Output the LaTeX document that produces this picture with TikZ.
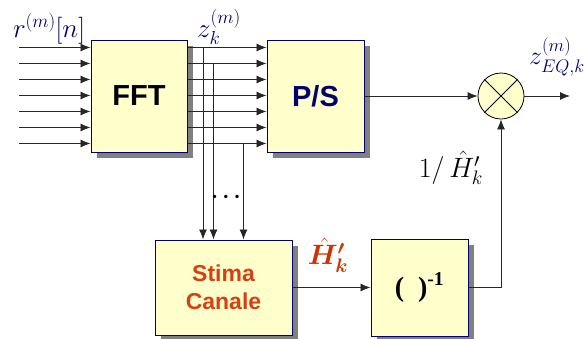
\RequirePackage{fix-cm}
\documentclass[tikz,border=0pt]{standalone}
\usepackage{fontspec}
\setmainfont{Liberation Serif}
\setsansfont{Liberation Sans}
\usepackage{amsmath,bm}
\usetikzlibrary{arrows.meta,shadows}
\definecolor{navy}{RGB}{0,0,110}
\definecolor{boxfill}{RGB}{255,255,204}
\definecolor{rosso}{RGB}{204,51,0}
\definecolor{arancio}{RGB}{214,64,20}

\begin{document}
\begin{tikzpicture}[x=1pt,y=-1pt,line width=.8pt,>={Latex[length=10pt,width=8pt]}]
	\tikzstyle{blocco}=[draw=navy,fill=boxfill,line width=1pt,inner sep=0pt,
		drop shadow={shadow xshift=6pt,shadow yshift=-6pt,fill=black!50,opacity=1}];
	\tikzstyle{filo}=[draw=black!85,line width=.8pt];
	\tikzstyle{etichetta}=[inner sep=0pt,text=navy];
	\useasboundingbox (0,0) rectangle (584,338);
	%% blocks
	\node[blocco,minimum width=96pt,minimum height=112pt,font=\fontsize{29}{29}\selectfont\sffamily\bfseries] (FFT) at (139,96) {FFT};
	\node[blocco,minimum width=97pt,minimum height=112pt,font=\fontsize{29}{29}\selectfont\sffamily\bfseries,text=navy] (PS) at (315.5,96) {P/S};
	\node[blocco,minimum width=137pt,minimum height=95pt,align=center,font=\fontsize{23}{28}\selectfont\sffamily\bfseries,text=arancio] (SC) at (223.5,287.5) {Stima\\Canale};
	\node[blocco,minimum width=97pt,minimum height=97pt,font=\fontsize{28}{28}\selectfont\bfseries] (INV) at (419.5,287.5) {(\ \ )\textsuperscript{-1}};
	\node[draw=black,fill=boxfill,circle,minimum size=46pt,inner sep=0pt] (M) at (501,96) {};
	\draw[black] (M.north west) -- (M.south east) (M.north east) -- (M.south west);
	%% parallel lines
	\foreach \i in {0,...,6}{
		\coordinate (in\i) at (19,{47.5+16*\i});
		\draw[filo,->] (in\i) -- (FFT.west |- in\i);
		\draw[filo,->] (FFT.east |- in\i) -- (PS.west |- in\i);
	}
	%% taps to channel estimation
	\coordinate (t1) at (203,47.5);
	\coordinate (t2) at (213.5,63.5);
	\coordinate (t3) at (243.5,143.5);
	\foreach \t in {t1,t2,t3}
		\draw[filo,->] (\t) -- (\t |- SC.north);
	\node[inner sep=0pt] (dots) at (228,197) {\fontsize{22}{22}\selectfont$\bm{\cdots}$};
	%% output chain
	\coordinate (out) at (570,96);
	\draw[filo,->] (PS.east |- M) -- (M.west);
	\draw[filo,->] (M.east) -- (out);
	\draw[filo,->] (SC.east) -- (INV.west);
	\draw[filo,->] (INV.east) -| (M.south);
	%% labels
	\node[etichetta] (r) at (49,29) {\fontsize{27}{27}\selectfont$r^{(m)}[n]$};
	\node[etichetta] (z) at (219,27) {\fontsize{27}{27}\selectfont$z_k^{(m)}$};
	\node[etichetta] (zeq) at (557,57) {\fontsize{26}{26}\selectfont$z_{EQ,k}^{(m)}$};
	\node[inner sep=0pt] (inv) at (451,168) {\fontsize{28}{28}\selectfont$1/\,\hat{H}_k'$};
	\node[inner sep=0pt,text=rosso] (h) at (328,255) {\fontsize{28}{28}\selectfont$\bm{\hat{H}_k'}$};
\end{tikzpicture}
\end{document}
